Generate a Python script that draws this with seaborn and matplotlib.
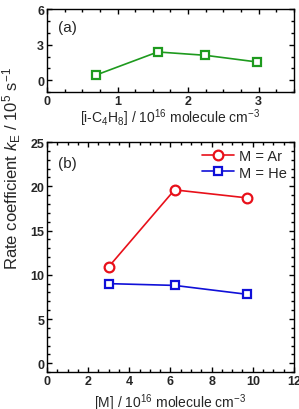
import numpy as np
import pandas as pd
import seaborn as sns
import matplotlib.pyplot as plt
from matplotlib.ticker import MultipleLocator

# panel (a): k_E vs [i-C4H8]
c4h8 = [0.70, 1.57, 2.24, 2.97]
k_c4h8 = [0.45, 2.39, 2.11, 1.55]

# panel (b): k_E vs [M]
m_conc = [3.0, 6.2, 9.7]
k_ar = [10.9, 19.6, 18.7]
k_he = [9.0, 8.8, 7.8]

sns.set_theme(style="ticks")
plt.rcParams["font.family"] = ["Liberation Sans", "DejaVu Sans"]
plt.rcParams["mathtext.fontset"] = "custom"
plt.rcParams["mathtext.rm"] = "Liberation Sans"
plt.rcParams["mathtext.it"] = "Liberation Sans:italic"

fig = plt.figure(figsize=(2.99, 4.10), dpi=100)
ax1 = fig.add_axes([0.157, 0.773, 0.826, 0.202])
ax2 = fig.add_axes([0.157, 0.090, 0.826, 0.561])

green = "#1e9a1e"
red = "#e8101a"
blue = "#1010d8"

df_a = pd.DataFrame({"x": c4h8, "k": k_c4h8})
sns.lineplot(data=df_a, x="x", y="k", ax=ax1, color=green, marker="s",
             markersize=6, markerfacecolor="white", markeredgecolor=green,
             markeredgewidth=1.6, linewidth=1.2)

df_b = pd.DataFrame({"x": m_conc, "ar": k_ar, "he": k_he})
sns.lineplot(data=df_b, x="x", y="ar", ax=ax2, color=red, marker="o",
             markersize=7, markerfacecolor="white", markeredgecolor=red,
             markeredgewidth=1.6, linewidth=1.2, label="M = Ar")
sns.lineplot(data=df_b, x="x", y="he", ax=ax2, color=blue, marker="s",
             markersize=6, markerfacecolor="white", markeredgecolor=blue,
             markeredgewidth=1.6, linewidth=1.2, label="M = He")

ax1.set_xlim(0, 3.5)
ax1.set_ylim(-1, 6)
ax1.xaxis.set_major_locator(MultipleLocator(1))
ax1.xaxis.set_minor_locator(MultipleLocator(0.25))
ax1.yaxis.set_major_locator(MultipleLocator(3))
ax1.yaxis.set_minor_locator(MultipleLocator(1))

ax2.set_xlim(0, 12)
ax2.set_ylim(-1, 25)
ax2.xaxis.set_major_locator(MultipleLocator(2))
ax2.xaxis.set_minor_locator(MultipleLocator(0.5))
ax2.yaxis.set_major_locator(MultipleLocator(5))
ax2.yaxis.set_minor_locator(MultipleLocator(1))

for ax in (ax1, ax2):
    ax.tick_params(which="both", direction="in", top=True, right=True,
                   width=1.0, color="black")
    ax.tick_params(which="major", length=3.5, labelsize=9, pad=2)
    ax.tick_params(which="minor", length=2)
    for lab in ax.get_xticklabels() + ax.get_yticklabels():
        lab.set_fontweight("bold")
    for sp in ax.spines.values():
        sp.set_linewidth(1.0)
        sp.set_color("black")
    ax.set_ylabel("")

ax1.set_xlabel(r"[i-C$_4$H$_8$] / 10$^{16}$ molecule cm$^{-3}$", fontsize=10, labelpad=0)
ax2.set_xlabel(r"[M] / 10$^{16}$ molecule cm$^{-3}$", fontsize=10, labelpad=3)

ax1.text(0.045, 0.78, "(a)", transform=ax1.transAxes, fontsize=11, va="center")
ax2.text(0.045, 0.91, "(b)", transform=ax2.transAxes, fontsize=11, va="center")

ax2.legend(loc="upper right", frameon=False, fontsize=10.5, handlelength=2.2,
           handletextpad=0.3, borderaxespad=0.1, labelspacing=0.15)

fig.text(0.04, 0.59, r"Rate coefficient $k_{\mathrm{E}}$ / 10$^5$ s$^{-1}$",
         rotation=90, va="center", ha="center", fontsize=12)

fig.savefig("out.png", dpi=100)
